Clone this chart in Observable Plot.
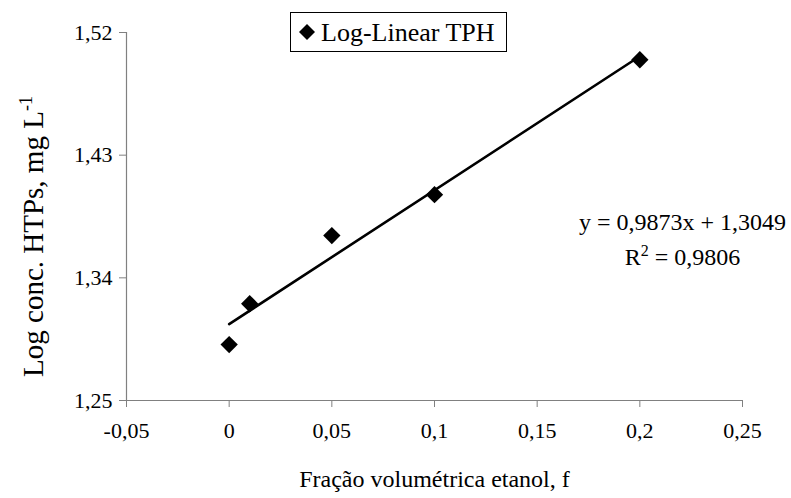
<!DOCTYPE html>
<html>
<head>
<meta charset="utf-8">
<script src="https://cdn.jsdelivr.net/npm/d3@7"></script>
<script src="https://cdn.jsdelivr.net/npm/@observablehq/plot@0.6"></script>
<style>
  html, body { margin: 0; padding: 0; background: #fff; }
  #chart { position: relative; width: 791px; height: 498px; }
  svg { font-family: "Liberation Serif", "Times New Roman", serif; }
</style>
</head>
<body>
<div id="chart"></div>
<script>
// Data
const fractions = [0, 0.01, 0.05, 0.1, 0.2];
const logConc = [1.291, 1.321, 1.371, 1.401, 1.500];
const xTicks = [-0.05, 0, 0.05, 0.1, 0.15, 0.2, 0.25];
const yTicks = [1.25, 1.34, 1.43, 1.52];
const seriesName = "Log-Linear TPH";
const equationText = "y = 0,9873x + 1,3049";
const r2Label = "R";
const r2Sup = "2";
const r2Value = " = 0,9806";
const xTitle = "Fração volumétrica etanol, f";
const yTitle = "Log conc. HTPs, mg L";
const yTitleSup = "-1";

const data = fractions.map((f, i) => ({f, v: logConc[i]}));
const fmtX = d => (Math.abs(d) < 1e-9 ? "0" : String(+d.toFixed(2)).replace(".", ","));
const fmtY = d => d.toFixed(2).replace(".", ",");

const plot = Plot.plot({
  width: 791,
  height: 498,
  marginLeft: 126,
  marginRight: 49,
  marginTop: 32,
  marginBottom: 98,
  style: {fontFamily: "Liberation Serif", fontSize: "22px", background: "#fff", color: "#000"},
  x: {domain: [-0.05, 0.25]},
  y: {domain: [1.25, 1.52]},
  marks: [
    Plot.ruleX([-0.05], {stroke: "#808080", strokeWidth: 1.2}),
    Plot.ruleY([1.25], {stroke: "#808080", strokeWidth: 1.2}),
    Plot.axisX(xTicks, {tickFormat: fmtX, tickSize: 7, tickPadding: 15, stroke: "#808080", fill: "#000", fontSize: 22, label: null}),
    Plot.axisY(yTicks, {tickFormat: fmtY, tickSize: 7, tickPadding: 7, stroke: "#808080", fill: "#000", fontSize: 22, label: null}),
    Plot.linearRegressionY(data, {x: "f", y: "v", ci: 0, stroke: "#000", strokeWidth: 2.6}),
    Plot.dot(data, {x: "f", y: "v", symbol: "diamond2", r: 7.8, fill: "#000", stroke: "none"}),
    Plot.text([equationText], {x: 0.2208, y: 1.3806, text: d => d, fontSize: 24, fill: "#000", textAnchor: "middle"}),
    Plot.text([r2Label], {x: 0.2208, y: 1.3549, text: d => d, fontSize: 24, fill: "#000", textAnchor: "middle", className: "r2"}),
    Plot.text([xTitle], {frameAnchor: "bottom", dy: 86, text: d => d, fontSize: 24, fill: "#000", textAnchor: "middle"}),
    Plot.text([yTitle], {frameAnchor: "left", dx: -93, dy: 20, rotate: -90, text: d => d, fontSize: 29, fill: "#000", textAnchor: "middle", className: "ytitle"})
  ]
});

document.getElementById("chart").appendChild(plot);
const svg = d3.select(plot);

// Superscript on y title
svg.selectAll(".ytitle text").each(function() {
  d3.select(this).append("tspan").attr("dy", "-11").attr("font-size", "18").text(yTitleSup);
});
// R² with superscript
svg.selectAll(".r2 text").each(function() {
  const t = d3.select(this);
  t.append("tspan").attr("dy", "-9").attr("font-size", "16").text(r2Sup);
  t.append("tspan").attr("dy", "9").text(r2Value);
});

// Legend box (in SVG)
const lg = svg.append("g").attr("class", "legend").attr("text-anchor", "start");
lg.append("rect").attr("x", 290.5).attr("y", 12.5).attr("width", 216).attr("height", 39)
  .attr("fill", "#fff").attr("stroke", "#000").attr("stroke-width", 1);
lg.append("path").attr("d", d3.symbol(d3.symbolDiamond2, Math.PI * 7.2 * 7.2)())
  .attr("transform", "translate(307,32)").attr("fill", "#000");
lg.append("text").attr("x", 321).attr("y", 32).attr("dy", "0.35em")
  .attr("font-size", 26).attr("fill", "#000").attr("text-anchor", "start").text(seriesName);
</script>
</body>
</html>
